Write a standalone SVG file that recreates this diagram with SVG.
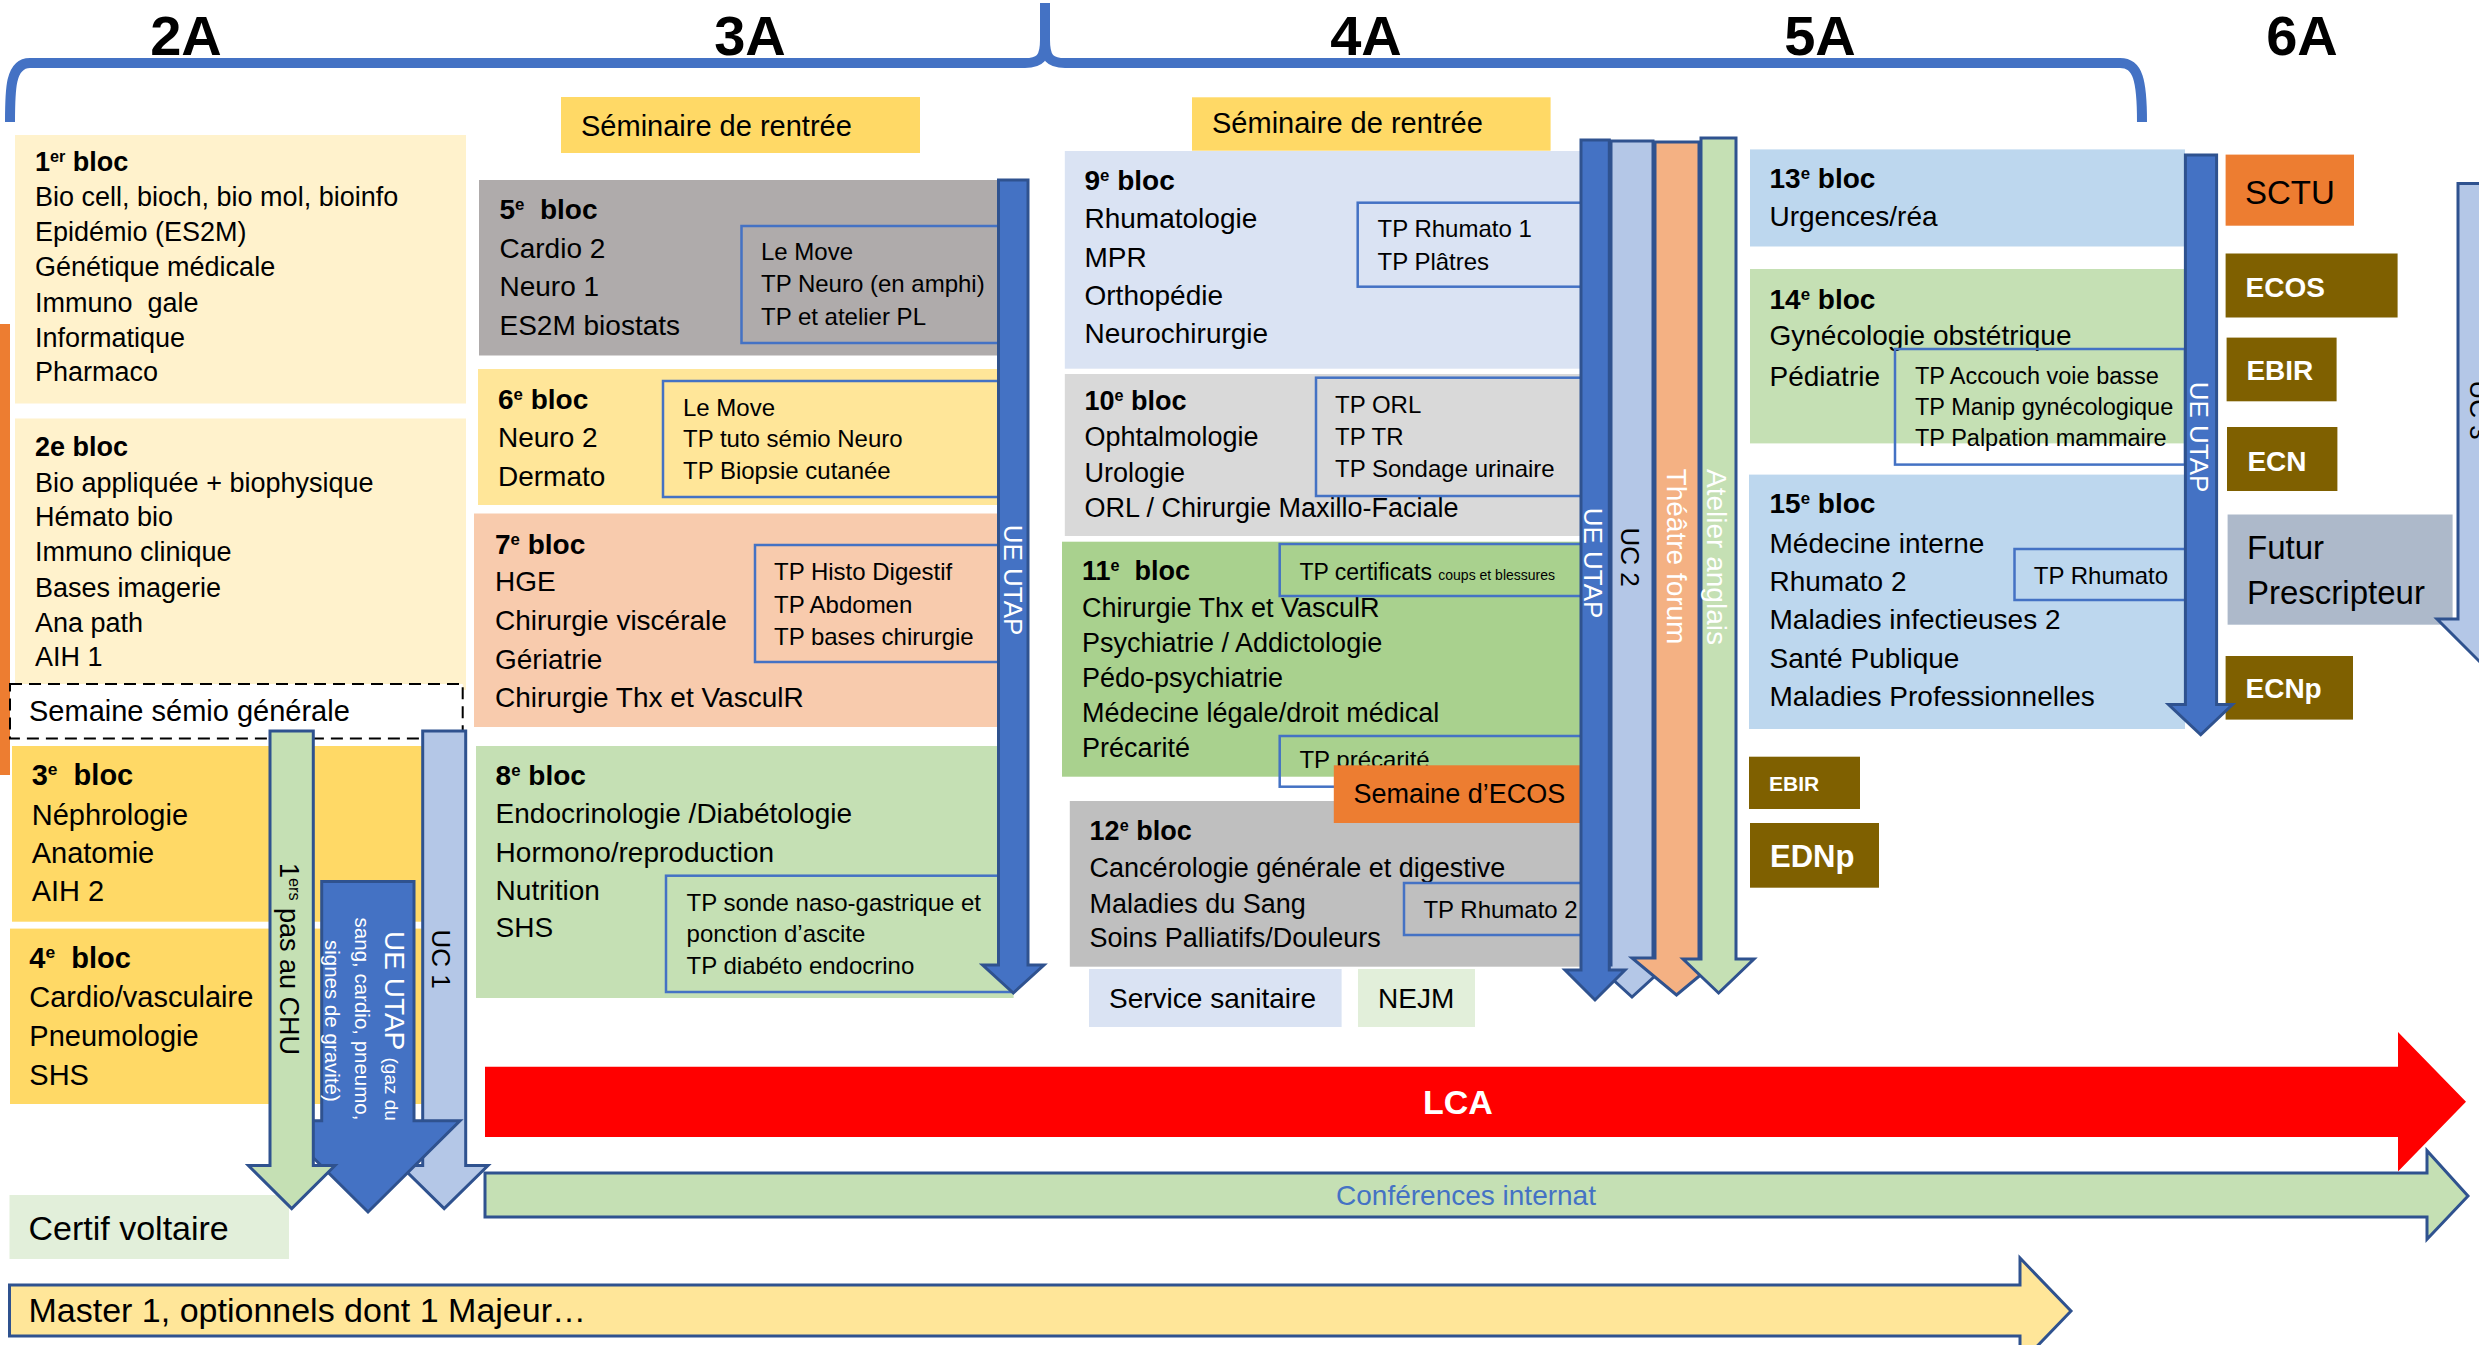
<svg xmlns="http://www.w3.org/2000/svg" width="2479" height="1345" viewBox="0 0 2479 1345">
<style>
text{font-family:"Liberation Sans",Arial,sans-serif;fill:#000}
.yr{font-size:56px;font-weight:bold}
.b29{font-size:29px}
.b28{font-size:28px}
.b27{font-size:27px}
.tp{font-size:24px}
.h{font-weight:bold}
.ib{fill:none;stroke:#4472C4;stroke-width:2.5}
.w{fill:#fff}
.wb{fill:#fff;font-weight:bold}
.arr{stroke:#2F528F;stroke-width:3;stroke-linejoin:miter}
.utap{fill:#4472C4}
.uc{fill:#B4C7E7}
.sup{font-size:60%}
</style>
<!-- year labels and brace -->
<g id="years">
<text class="yr" x="186" y="55" text-anchor="middle">2A</text>
<text class="yr" x="750" y="55" text-anchor="middle">3A</text>
<text class="yr" x="1366" y="55" text-anchor="middle">4A</text>
<text class="yr" x="1820" y="55" text-anchor="middle">5A</text>
<text class="yr" x="2302" y="55" text-anchor="middle">6A</text>
<path d="M10,122 C10,90 10,63 30,63 L1025,63 C1040,63 1045,58 1045,40 L1045,3 M1045,40 C1045,58 1050,63 1065,63 L2120,63 C2138,63 2142,80 2142,122" fill="none" stroke="#4472C4" stroke-width="10"/>
</g>
<rect id="leftbar" x="0" y="324" width="10" height="451" fill="#ED7D31"/>

<g id="bloc1">
<rect x="15" y="135" width="451" height="268.5" fill="#FFF2CC"/>
<text class="b27" x="35" y="171"><tspan class="h">1<tspan class="sup" baseline-shift="super">er</tspan> bloc</tspan></text>
<text class="b27" x="35" y="206">Bio cell, bioch, bio mol, bioinfo</text>
<text class="b27" x="35" y="241">Epidémio (ES2M)</text>
<text class="b27" x="35" y="276">Génétique médicale</text>
<text class="b27" x="35" y="312" xml:space="preserve">Immuno  gale</text>
<text class="b27" x="35" y="347">Informatique</text>
<text class="b27" x="35" y="381">Pharmaco</text>
</g>
<g id="bloc2">
<rect x="15" y="418.5" width="451" height="271.5" fill="#FFF2CC"/>
<text class="b27 h" x="35" y="456">2e bloc</text>
<text class="b27" x="35" y="492">Bio appliquée + biophysique</text>
<text class="b27" x="35" y="526">Hémato bio</text>
<text class="b27" x="35" y="561">Immuno clinique</text>
<text class="b27" x="35" y="597">Bases imagerie</text>
<text class="b27" x="35" y="632">Ana path</text>
<text class="b27" x="35" y="666">AIH 1</text>
</g>
<g id="semaine-semio">
<rect x="10" y="684" width="452.7" height="54.5" fill="#fff" stroke="#000" stroke-width="2" stroke-dasharray="12 7"/>
<text class="b29" x="29" y="721">Semaine sémio générale</text>
</g>
<g id="bloc3">
<rect x="12" y="746" width="410" height="175.7" fill="#FFD966"/>
<text class="b29" x="31.7" y="785" xml:space="preserve"><tspan class="h">3<tspan class="sup" baseline-shift="super">e</tspan>  bloc</tspan></text>
<text class="b29" x="31.7" y="825">Néphrologie</text>
<text class="b29" x="31.7" y="863">Anatomie</text>
<text class="b29" x="31.7" y="901">AIH 2</text>
</g>
<g id="bloc4">
<rect x="10" y="928.6" width="412" height="175.4" fill="#FFD966"/>
<text class="b29" x="29.3" y="967.5" xml:space="preserve"><tspan class="h">4<tspan class="sup" baseline-shift="super">e</tspan>  bloc</tspan></text>
<text class="b29" x="29.3" y="1007">Cardio/vasculaire</text>
<text class="b29" x="29.3" y="1046">Pneumologie</text>
<text class="b29" x="29.3" y="1085">SHS</text>
</g>
<g id="certif-voltaire">
<rect x="9.5" y="1195" width="279.5" height="64" fill="#E2EFDA"/>
<text x="28.5" y="1240" style="font-size:34px">Certif voltaire</text>
</g>

<g id="seminaire-3A">
<rect x="561" y="97" width="359" height="56" fill="#FFD966"/>
<text class="b29" x="581" y="136">Séminaire de rentrée</text>
</g>
<g id="bloc5">
<rect x="479" y="180" width="520" height="175.5" fill="#AFABAB"/>
<text class="b28" x="499.5" y="219" xml:space="preserve"><tspan class="h">5<tspan class="sup" baseline-shift="super">e</tspan>  bloc</tspan></text>
<text class="b28" x="499.5" y="257.5">Cardio 2</text>
<text class="b28" x="499.5" y="296">Neuro 1</text>
<text class="b28" x="499.5" y="335">ES2M biostats</text>
<rect class="ib" x="741.5" y="226" width="260" height="117"/>
<text class="tp" x="761" y="260">Le Move</text>
<text class="tp" x="761" y="292">TP Neuro (en amphi)</text>
<text class="tp" x="761" y="325">TP et atelier PL</text>
</g>
<g id="bloc6">
<rect x="478" y="369" width="521" height="136" fill="#FFE699"/>
<text class="b28" x="498" y="408.6"><tspan class="h">6<tspan class="sup" baseline-shift="super">e</tspan> bloc</tspan></text>
<text class="b28" x="498" y="447">Neuro 2</text>
<text class="b28" x="498" y="486">Dermato</text>
<rect class="ib" x="663" y="381" width="338" height="116"/>
<text class="tp" x="683" y="415.5">Le Move</text>
<text class="tp" x="683" y="447">TP tuto sémio Neuro</text>
<text class="tp" x="683" y="479">TP Biopsie cutanée</text>
</g>
<g id="bloc7">
<rect x="474" y="513.5" width="525" height="213.5" fill="#F8CBAD"/>
<text class="b28" x="495" y="553.5"><tspan class="h">7<tspan class="sup" baseline-shift="super">e</tspan> bloc</tspan></text>
<text class="b28" x="495" y="591">HGE</text>
<text class="b28" x="495" y="630">Chirurgie viscérale</text>
<text class="b28" x="495" y="669">Gériatrie</text>
<text class="b28" x="495" y="706.5">Chirurgie Thx et VasculR</text>
<rect class="ib" x="755" y="545" width="246" height="117"/>
<text class="tp" x="774" y="580">TP Histo Digestif</text>
<text class="tp" x="774" y="612.6">TP Abdomen</text>
<text class="tp" x="774" y="644.5">TP bases chirurgie</text>
</g>
<g id="bloc8">
<rect x="476" y="746" width="537.6" height="252" fill="#C5E0B4"/>
<text class="b28" x="495.6" y="785"><tspan class="h">8<tspan class="sup" baseline-shift="super">e</tspan> bloc</tspan></text>
<text class="b28" x="495.6" y="823">Endocrinologie /Diabétologie</text>
<text class="b28" x="495.6" y="862">Hormono/reproduction</text>
<text class="b28" x="495.6" y="900">Nutrition</text>
<text class="b28" x="495.6" y="937">SHS</text>
<rect class="ib" x="666" y="875.7" width="344" height="116.3"/>
<text class="tp" x="686.6" y="910.7">TP sonde naso-gastrique et</text>
<text class="tp" x="686.6" y="942">ponction d’ascite</text>
<text class="tp" x="686.6" y="974">TP diabéto endocrino</text>
</g>

<g id="seminaire-4A">
<rect x="1192" y="97.3" width="358.6" height="53.4" fill="#FFD966"/>
<text class="b29" x="1212" y="133.3">Séminaire de rentrée</text>
</g>
<g id="bloc9">
<rect x="1064.8" y="151" width="516" height="217.7" fill="#DAE3F3"/>
<text class="b28" x="1084.5" y="190"><tspan class="h">9<tspan class="sup" baseline-shift="super">e</tspan> bloc</tspan></text>
<text class="b28" x="1084.5" y="228">Rhumatologie</text>
<text class="b28" x="1084.5" y="266.7">MPR</text>
<text class="b28" x="1084.5" y="305">Orthopédie</text>
<text class="b28" x="1084.5" y="343.3">Neurochirurgie</text>
<rect class="ib" x="1357.7" y="202.7" width="224" height="84"/>
<text class="tp" x="1377.5" y="236.7">TP Rhumato 1</text>
<text class="tp" x="1377.5" y="270">TP Plâtres</text>
</g>
<g id="bloc10">
<rect x="1064.8" y="374" width="516" height="162" fill="#D9D9D9"/>
<text class="b27" x="1084.5" y="410"><tspan class="h">10<tspan class="sup" baseline-shift="super">e</tspan> bloc</tspan></text>
<text class="b27" x="1084.5" y="446">Ophtalmologie</text>
<text class="b27" x="1084.5" y="481.7">Urologie</text>
<text class="b27" x="1084.5" y="516.7">ORL / Chirurgie Maxillo-Faciale</text>
<rect class="ib" x="1316" y="377.7" width="266" height="118.3"/>
<text class="tp" x="1335" y="413.3">TP ORL</text>
<text class="tp" x="1335" y="445">TP TR</text>
<text class="tp" x="1335" y="476.7">TP Sondage urinaire</text>
</g>
<g id="bloc11">
<rect x="1062" y="541.7" width="519" height="235" fill="#A9D18E"/>
<text class="b27" x="1082" y="580" xml:space="preserve"><tspan class="h">11<tspan class="sup" baseline-shift="super">e</tspan>  bloc</tspan></text>
<text class="b27" x="1082" y="616.7">Chirurgie Thx et VasculR</text>
<text class="b27" x="1082" y="651.7">Psychiatrie / Addictologie</text>
<text class="b27" x="1082" y="686.7">Pédo-psychiatrie</text>
<text class="b27" x="1082" y="721.7">Médecine légale/droit médical</text>
<text class="b27" x="1082" y="756.7">Précarité</text>
<rect class="ib" x="1279.7" y="544" width="302" height="52"/>
<text x="1299.4" y="580" style="font-size:23px">TP certificats <tspan style="font-size:14px">coups et blessures</tspan></text>
<rect class="ib" x="1279.7" y="736" width="302" height="50.7"/>
<text class="tp" x="1299.4" y="768">TP précarité</text>
</g>
<g id="bloc12">
<rect x="1069.8" y="801" width="511" height="165.7" fill="#BFBFBF"/>
<text class="b27" x="1089.6" y="840"><tspan class="h">12<tspan class="sup" baseline-shift="super">e</tspan> bloc</tspan></text>
<text class="b27" x="1089.6" y="876.7">Cancérologie générale et digestive</text>
<text class="b27" x="1089.6" y="913">Maladies du Sang</text>
<text class="b27" x="1089.6" y="946.7">Soins Palliatifs/Douleurs</text>
<rect class="ib" x="1404" y="883" width="178" height="52"/>
<text class="tp" x="1423.4" y="918">TP Rhumato 2</text>
</g>
<g id="semaine-ecos">
<rect x="1333.8" y="765.3" width="251.7" height="57.7" fill="#ED7D31"/>
<text class="b27" x="1353.6" y="803">Semaine d’ECOS</text>
</g>
<g id="service-sanitaire">
<rect x="1089" y="969" width="252.6" height="58" fill="#DAE3F3"/>
<text class="b28" x="1109" y="1008">Service sanitaire</text>
</g>
<g id="nejm">
<rect x="1358" y="969" width="117" height="58" fill="#E2EFDA"/>
<text class="b28" x="1378" y="1008">NEJM</text>
</g>

<g id="bloc13">
<rect x="1750" y="149.4" width="435" height="97.1" fill="#BDD7EE"/>
<text class="b28" x="1769.5" y="188.4"><tspan class="h">13<tspan class="sup" baseline-shift="super">e</tspan> bloc</tspan></text>
<text class="b28" x="1769.5" y="226">Urgences/réa</text>
</g>
<g id="bloc14">
<rect x="1750" y="269" width="435" height="174.4" fill="#C5E0B4"/>
<text class="b28" x="1769.5" y="308.5"><tspan class="h">14<tspan class="sup" baseline-shift="super">e</tspan> bloc</tspan></text>
<text class="b28" x="1769.5" y="345.4">Gynécologie obstétrique</text>
<text class="b28" x="1769.5" y="385.7">Pédiatrie</text>
<rect class="ib" x="1895" y="349" width="290" height="115.6"/>
<text x="1915" y="383.6" style="font-size:23.5px">TP Accouch voie basse</text>
<text x="1915" y="414.8" style="font-size:23.5px">TP Manip gynécologique</text>
<text x="1915" y="446.4" style="font-size:23.5px">TP Palpation mammaire</text>
</g>
<g id="bloc15">
<rect x="1749" y="474.6" width="436" height="254.4" fill="#BDD7EE"/>
<text class="b28" x="1769.5" y="512.8"><tspan class="h">15<tspan class="sup" baseline-shift="super">e</tspan> bloc</tspan></text>
<text class="b28" x="1769.5" y="552.7">Médecine interne</text>
<text class="b28" x="1769.5" y="590.8">Rhumato 2</text>
<text class="b28" x="1769.5" y="628.6">Maladies infectieuses 2</text>
<text class="b28" x="1769.5" y="667.6">Santé Publique</text>
<text class="b28" x="1769.5" y="705.8">Maladies Professionnelles</text>
<rect class="ib" x="2014.5" y="549" width="172" height="51"/>
<text class="tp" x="2033.8" y="584">TP Rhumato</text>
</g>
<g id="ebir-small">
<rect x="1749" y="756.7" width="111" height="52.3" fill="#7F6000"/>
<text class="wb" x="1769" y="790.7" style="font-size:21px">EBIR</text>
</g>
<g id="ednp">
<rect x="1750" y="823" width="129" height="64.7" fill="#7F6000"/>
<text class="wb" x="1770" y="866.7" style="font-size:31px">EDNp</text>
</g>
<g id="sctu">
<rect x="2225.6" y="154.6" width="128.4" height="71.1" fill="#ED7D31"/>
<text x="2245" y="203.6" style="font-size:33px">SCTU</text>
</g>
<g id="ecos">
<rect x="2225.6" y="253.5" width="172" height="64" fill="#7F6000"/>
<text class="wb" x="2245.5" y="296.8" style="font-size:28px">ECOS</text>
</g>
<g id="ebir">
<rect x="2226.6" y="337.6" width="110" height="63.7" fill="#7F6000"/>
<text class="wb" x="2246.4" y="380" style="font-size:28px">EBIR</text>
</g>
<g id="ecn">
<rect x="2227" y="427" width="110.4" height="64" fill="#7F6000"/>
<text class="wb" x="2247.4" y="471" style="font-size:28px">ECN</text>
</g>
<g id="futur-prescripteur">
<rect x="2227.6" y="514.5" width="225" height="110.2" fill="#ADB9CA"/>
<text x="2247" y="559" style="font-size:33px">Futur</text>
<text x="2247" y="604" style="font-size:33px">Prescripteur</text>
</g>
<g id="ecnp">
<rect x="2225.6" y="656" width="127.4" height="63.6" fill="#7F6000"/>
<text class="wb" x="2245.5" y="698" style="font-size:28px">ECNp</text>
</g>

<g id="connectors">
<!-- 2A arrows -->
<path class="arr uc" d="M422.7,731 H465.7 V1165.5 H488 L444.2,1208.6 L400.4,1165.5 H422.7 Z"/>
<path class="arr utap" d="M321.7,881.4 H414 V1120.8 H460 L368,1212 L276,1120.8 H321.7 Z"/>
<path class="arr" fill="#C5E0B4" d="M270,731 H313.3 V1165.5 H335 L291.7,1208.6 L248.4,1165.5 H270 Z"/>
<text transform="translate(280,959) rotate(90)" text-anchor="middle" style="font-size:27px">1<tspan class="sup" baseline-shift="super">ers</tspan> pas au CHU</text>
<text transform="translate(432,959) rotate(90)" text-anchor="middle" style="font-size:26px">UC 1</text>
<text transform="translate(385,931) rotate(90)" class="w" style="font-size:28px">UE UTAP <tspan style="font-size:19px">(gaz du</tspan></text>
<text transform="translate(355,917.6) rotate(90)" class="w" style="font-size:20.5px">sang, cardio, pneumo,</text>
<text transform="translate(325,940) rotate(90)" class="w" style="font-size:20.5px">signes de gravité)</text>
<!-- 3A arrow -->
<path class="arr utap" d="M998.5,180 H1028 V965 H1044 L1013.3,993 L982.6,965 H998.5 Z"/>
<text transform="translate(1004,580) rotate(90)" class="w" text-anchor="middle" style="font-size:26px">UE UTAP</text>
<!-- 4A/5A arrows -->
<path class="arr uc" d="M1611,141 H1653 V965 H1667 L1632,997 L1597,965 H1611 Z"/>
<path class="arr utap" d="M1581,140 H1609.3 V970 H1625 L1595,1000 L1565,970 H1581 Z"/>
<path class="arr" fill="#F4B183" d="M1655,142 H1699 V958 H1721 L1676.5,995 L1632,958 H1655 Z"/>
<path class="arr" fill="#C5E0B4" d="M1701,138 H1736 V959 H1754 L1718.6,993 L1683,959 H1701 Z"/>
<text transform="translate(1584,563) rotate(90)" class="w" text-anchor="middle" style="font-size:26px">UE UTAP</text>
<text transform="translate(1621,557) rotate(90)" text-anchor="middle" style="font-size:26px">UC 2</text>
<text transform="translate(1667,556.5) rotate(90)" class="w" text-anchor="middle" style="font-size:28px">Théâtre forum</text>
<text transform="translate(1707,557) rotate(90)" class="w" text-anchor="middle" style="font-size:28px">Atelier anglais</text>
<!-- 6A arrows -->
<path class="arr utap" d="M2185.4,155 H2216.6 V704.5 H2232.5 L2200.7,734.8 L2168.5,704.5 H2185.4 Z"/>
<text transform="translate(2190,437) rotate(90)" class="w" text-anchor="middle" style="font-size:26px">UE UTAP</text>
<path class="arr uc" d="M2458,183.6 H2508 V619 H2529 L2483,665 L2437,619 H2458 Z"/>
<text transform="translate(2470,410) rotate(90)" text-anchor="middle" style="font-size:26px">UC 3</text>
<!-- horizontal arrows -->
<path class="arr" fill="#C5E0B4" d="M485,1173 H2427 V1150.7 L2468,1196 L2427,1239.3 V1217 H485 Z"/>
<text x="1466" y="1205" text-anchor="middle" style="font-size:28px;fill:#4472C4">Conférences internat</text>
<path fill="#FF0000" d="M485,1066.7 H2398 V1032 L2466,1101.7 L2398,1171.5 V1137 H485 Z"/>
<text x="1458" y="1114" text-anchor="middle" class="wb" style="font-size:34px">LCA</text>
<path class="arr" fill="#FFE699" d="M9.5,1285 H2020 V1258 L2071,1311 L2020,1364 V1336 H9.5 Z"/>
<text x="28.5" y="1322" style="font-size:34px">Master 1, optionnels dont 1 Majeur…</text>
</g>
</svg>
